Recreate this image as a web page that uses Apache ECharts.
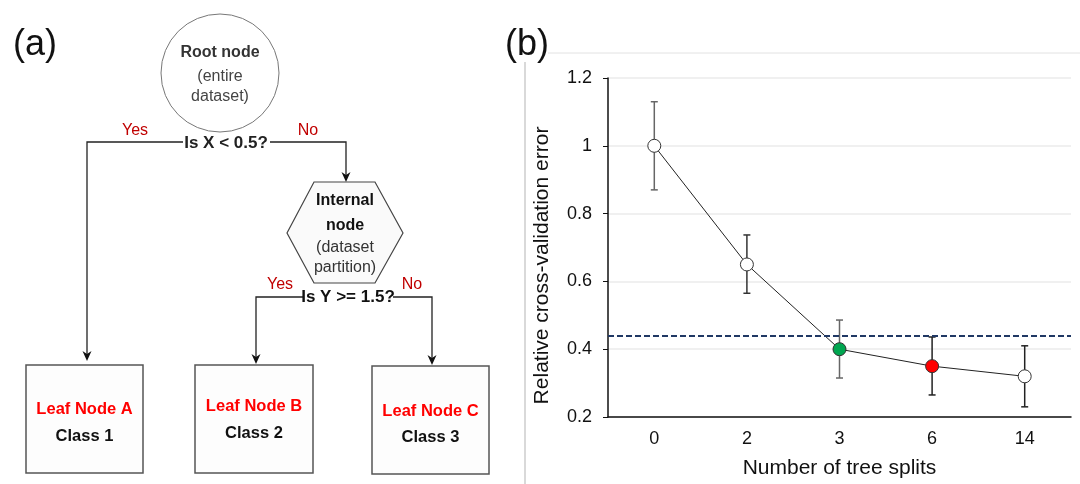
<!DOCTYPE html>
<html>
<head>
<meta charset="utf-8">
<script src="https://cdn.jsdelivr.net/npm/echarts@6/dist/echarts.min.js"></script>
<style>
  html, body { margin: 0; padding: 0; background: #fff; }
  #chart { width: 1080px; height: 484px; }
</style>
</head>
<body>
<div id="chart"></div>
<script>
// panel (b) data
var splitLabels = ['0', '2', '3', '6', '14'];
var cvError = [1.0, 0.65, 0.40, 0.35, 0.32];
var errLow = [0.87, 0.565, 0.315, 0.265, 0.23];
var errHigh = [1.13, 0.737, 0.486, 0.436, 0.41];
var pointColors = ['#ffffff', '#ffffff', '#00a650', '#ff0000', '#ffffff'];
var barColors = ['#666666', '#333333', '#666666', '#222222', '#222222'];
var thresholdValue = 0.442;

// panel (a) text
var rootText = ['Root node', '(entire', 'dataset)'];
var internalText = ['Internal', 'node', '(dataset', 'partition)'];
var questions = ['Is X < 0.5?', 'Is Y >= 1.5?'];
var leafNames = ['Leaf Node A', 'Leaf Node B', 'Leaf Node C'];
var leafClasses = ['Class 1', 'Class 2', 'Class 3'];

var FONT = '"Liberation Sans", Arial, sans-serif';
var myChart = echarts.init(document.getElementById('chart'));

function txt(x, y, s, size, color, bold) {
	return {
		type: 'text', x: x, y: y, z: 10,
		style: {
			text: s, fill: color,
			font: (bold ? 'bold ' : '') + size + 'px ' + FONT,
			align: 'center', verticalAlign: 'middle',
			textAlign: 'center', textVerticalAlign: 'middle'
		}
	};
}
function seg(points) {
	return { type: 'polyline', shape: { points: points }, style: { stroke: '#222', lineWidth: 1.3, fill: null } };
}
function arrow(x, y) {
	// arrow tip at (x, y) pointing down
	return { type: 'polygon', shape: { points: [[x, y], [x - 4.5, y - 10], [x, y - 7], [x + 4.5, y - 10]] }, style: { fill: '#111' } };
}
function box(x, y, w, h) {
	return { type: 'rect', shape: { x: x, y: y, width: w, height: h }, style: { fill: '#fdfdfd', stroke: '#555', lineWidth: 1.5 } };
}

var graphics = [];
// panel labels and frame
graphics.push(txt(35, 45, '(a)', 36, '#111', false));
graphics.push({ type: 'line', shape: { x1: 525, y1: 62, x2: 525, y2: 484 }, style: { stroke: '#cccccc', lineWidth: 1.5 } });
graphics.push({ type: 'line', shape: { x1: 548, y1: 53, x2: 1080, y2: 53 }, style: { stroke: '#e2e2e2', lineWidth: 1 } });
graphics.push(txt(527, 45, '(b)', 36, '#111', false));

// root node
graphics.push({ type: 'circle', shape: { cx: 220, cy: 73, r: 59 }, style: { fill: '#ffffff', stroke: '#777', lineWidth: 1 } });
graphics.push(txt(220, 53, rootText[0], 16, '#333', true));
graphics.push(txt(220, 77, rootText[1], 16, '#444', false));
graphics.push(txt(220, 97, rootText[2], 16, '#444', false));

// first split
graphics.push(seg([[183, 142], [87, 142], [87, 355]]));
graphics.push(arrow(87, 361));
graphics.push(seg([[270, 142], [346, 142], [346, 176]]));
graphics.push(arrow(346, 182));
graphics.push(txt(226, 143, questions[0], 17, '#222', true));
graphics.push(txt(135, 131, 'Yes', 16, '#c00000', false));
graphics.push(txt(308, 131, 'No', 16, '#c00000', false));

// internal node
graphics.push({ type: 'polygon', shape: { points: [[314, 182], [375, 182], [403, 233], [375, 283], [314, 283], [287, 233]] }, style: { fill: '#fafafa', stroke: '#444', lineWidth: 1.2 } });
graphics.push(txt(345, 201, internalText[0], 16, '#111', true));
graphics.push(txt(345, 226, internalText[1], 16, '#111', true));
graphics.push(txt(345, 248, internalText[2], 16, '#333', false));
graphics.push(txt(345, 268, internalText[3], 16, '#333', false));

// second split
graphics.push(seg([[303, 297], [256, 297], [256, 358]]));
graphics.push(arrow(256, 364));
graphics.push(seg([[393, 297], [432, 297], [432, 359]]));
graphics.push(arrow(432, 365));
graphics.push(txt(348, 297, questions[1], 17, '#111', true));
graphics.push(txt(280, 285, 'Yes', 16, '#c00000', false));
graphics.push(txt(412, 285, 'No', 16, '#c00000', false));

// leaves
var leafBoxes = [[26, 365, 117, 108], [195, 365, 118, 108], [372, 366, 117, 108]];
var leafTextY = [[409, 436], [406, 433], [411, 437]];
for (var i = 0; i < leafBoxes.length; i++) {
	var b = leafBoxes[i];
	graphics.push(box(b[0], b[1], b[2], b[3]));
	graphics.push(txt(b[0] + b[2] / 2, leafTextY[i][0], leafNames[i], 16.5, '#ff0000', true));
	graphics.push(txt(b[0] + b[2] / 2, leafTextY[i][1], leafClasses[i], 16.5, '#111', true));
}

var errData = [];
var pointData = [];
for (var k = 0; k < splitLabels.length; k++) {
	errData.push([k, errLow[k], errHigh[k]]);
	pointData.push({ value: cvError[k], itemStyle: { color: pointColors[k], borderColor: '#333', borderWidth: 1 } });
}

var option = {
	animation: false,
	textStyle: { fontFamily: FONT },
	graphic: graphics,
	grid: { left: 608, right: 9, top: 78, bottom: 63 },
	xAxis: {
		type: 'category',
		data: splitLabels,
		name: 'Number of tree splits',
		nameLocation: 'middle',
		nameGap: 41,
		nameTextStyle: { fontSize: 21, color: '#111', fontFamily: FONT },
		axisLine: { lineStyle: { color: '#111', width: 1.5 } },
		axisTick: { alignWithLabel: true, length: 4, lineStyle: { color: '#444' } },
		axisLabel: { fontSize: 18, color: '#111', margin: 13, fontFamily: FONT }
	},
	yAxis: {
		type: 'value',
		min: 0.2, max: 1.2, interval: 0.2,
		name: 'Relative cross-validation error',
		nameLocation: 'middle',
		nameGap: 55,
		nameTextStyle: { fontSize: 21, color: '#111', fontFamily: FONT, padding: [0, 36, 0, 0] },
		axisLine: { show: true, lineStyle: { color: '#111', width: 1.5 } },
		axisTick: { show: true, length: 5, lineStyle: { color: '#111' } },
		axisLabel: { fontSize: 18, color: '#111', margin: 16, fontFamily: FONT,
			formatter: function (v) { return String(Math.round(v * 10) / 10); } },
		splitLine: { lineStyle: { color: '#ebebeb', width: 1.5 } }
	},
	series: [
		{
			type: 'custom',
			z: 1,
			data: errData,
			renderItem: function (params, api) {
				var x = api.value(0);
				var lo = api.coord([x, api.value(1)]);
				var hi = api.coord([x, api.value(2)]);
				var hw = 3.5;
				var c = barColors[params.dataIndex];
				var st = { stroke: c, lineWidth: 1.5 };
				return {
					type: 'group',
					children: [
						{ type: 'line', shape: { x1: lo[0], y1: lo[1], x2: hi[0], y2: hi[1] }, style: st },
						{ type: 'line', shape: { x1: lo[0] - hw, y1: lo[1], x2: lo[0] + hw, y2: lo[1] }, style: st },
						{ type: 'line', shape: { x1: hi[0] - hw, y1: hi[1], x2: hi[0] + hw, y2: hi[1] }, style: st }
					]
				};
			}
		},
		{
			type: 'line',
			z: 3,
			data: pointData,
			symbol: 'circle',
			symbolSize: 13,
			lineStyle: { color: '#222', width: 1 },
			markLine: {
				silent: true,
				symbol: 'none',
				label: { show: false },
				lineStyle: { color: '#203864', width: 2, type: [6, 3] },
				data: [{ yAxis: thresholdValue }]
			}
		}
	]
};
myChart.setOption(option);
</script>
</body>
</html>
